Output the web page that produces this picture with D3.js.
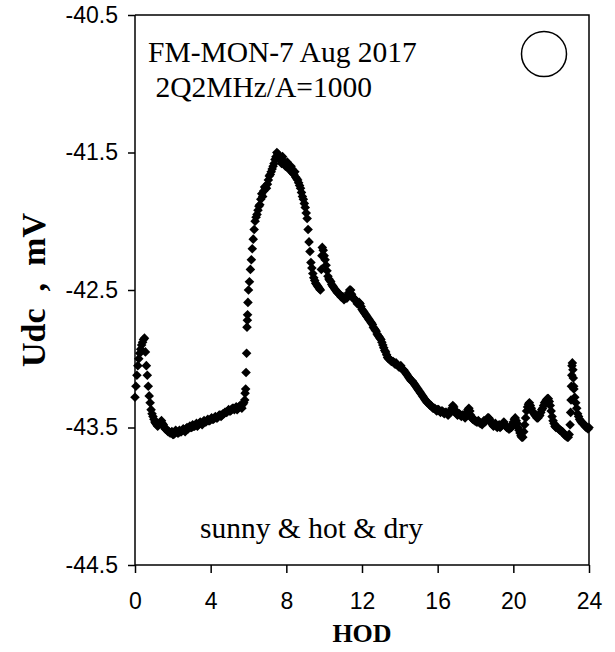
<!DOCTYPE html>
<html lang="en">
<head>
  <meta charset="UTF-8">
  <title>FM-MON-7 Aug 2017</title>
  <script src="https://d3js.org/d3.v7.min.js"></script>
  <style>
    body { margin: 0; background: #fff; }
    svg { font-family: "Liberation Serif", "Times New Roman", serif; }
    .axis path, .axis line { stroke: #000; stroke-width: 1.5px; }
    .axis text { font-size: 23px; fill: #000; }
  </style>
</head>
<body>
  <svg id="chart" width="615" height="652"></svg>
  <script>
    // readings on the full tenth of an hour (0.0, 0.1, ... 24.0)
    const udc = [
      -43.28, -43.12, -43.00, -42.93, -42.88, -42.85, -43.05, -43.20, -43.32, -43.40,
      -43.44, -43.47, -43.49, -43.47, -43.45, -43.48, -43.51, -43.52, -43.53, -43.54,
      -43.55, -43.54, -43.53, -43.54, -43.53, -43.52, -43.52, -43.51, -43.51, -43.49,
      -43.50, -43.49, -43.48, -43.49, -43.47, -43.47, -43.46, -43.46, -43.45, -43.45,
      -43.44, -43.44, -43.43, -43.43, -43.42, -43.41, -43.41, -43.40, -43.39, -43.38,
      -43.38, -43.37, -43.36, -43.36, -43.37, -43.35, -43.35, -43.33, -43.30, -42.96,
      -42.50, -42.35, -42.20, -42.06, -41.97, -41.92, -41.88, -41.80, -41.78, -41.76,
      -41.73, -41.67, -41.64, -41.60, -41.55, -41.50, -41.52, -41.56, -41.53, -41.58,
      -41.60, -41.60, -41.63, -41.62, -41.66, -41.68, -41.70, -41.74, -41.79, -41.84,
      -41.90, -41.98, -42.15, -42.30, -42.38, -42.43, -42.46, -42.48, -42.50, -42.19,
      -42.25, -42.32, -42.40, -42.43, -42.46, -42.48, -42.50, -42.52, -42.53, -42.55,
      -42.55, -42.56, -42.56, -42.52, -42.50, -42.55, -42.57, -42.58, -42.60, -42.60,
      -42.64, -42.66, -42.68, -42.70, -42.72, -42.74, -42.77, -42.79, -42.82, -42.84,
      -42.86, -42.90, -42.94, -42.97, -43.00, -43.01, -43.02, -43.03, -43.03, -43.05,
      -43.06, -43.07, -43.08, -43.10, -43.12, -43.14, -43.16, -43.17, -43.19, -43.21,
      -43.23, -43.25, -43.27, -43.29, -43.31, -43.32, -43.34, -43.35, -43.36, -43.37,
      -43.37, -43.38, -43.38, -43.39, -43.39, -43.40, -43.40, -43.38, -43.34, -43.37,
      -43.40, -43.40, -43.41, -43.41, -43.42, -43.41, -43.37, -43.38, -43.43, -43.44,
      -43.45, -43.46, -43.46, -43.47, -43.46, -43.46, -43.44, -43.43, -43.46, -43.48,
      -43.48, -43.49, -43.49, -43.50, -43.48, -43.46, -43.49, -43.50, -43.51, -43.50,
      -43.46, -43.43, -43.47, -43.52, -43.56, -43.57, -43.48, -43.38, -43.33, -43.34,
      -43.38, -43.40, -43.42, -43.43, -43.41, -43.37, -43.34, -43.31, -43.29, -43.31,
      -43.38, -43.45, -43.49, -43.50, -43.51, -43.52, -43.53, -43.55, -43.56, -43.57,
      -43.48, -43.05, -43.22, -43.32, -43.40, -43.44, -43.46, -43.47, -43.49, -43.50,
      -43.50
    ];
    const hod = udc.map((v, i) => i / 10);

    // readings half way between (0.05, 0.15, ... 23.95)
    const udcHalf = [
      -43.20, -43.05, -42.96, -42.90, -42.86, -42.95, -43.12, -43.27, -43.37, -43.42,
      -43.46, -43.48, -43.48, -43.46, -43.47, -43.50, -43.51, -43.53, -43.54, -43.53,
      -43.55, -43.52, -43.54, -43.52, -43.53, -43.51, -43.53, -43.50, -43.50, -43.50,
      -43.48, -43.49, -43.47, -43.48, -43.46, -43.48, -43.45, -43.46, -43.44, -43.45,
      -43.43, -43.44, -43.42, -43.43, -43.41, -43.42, -43.40, -43.39, -43.39, -43.37,
      -43.38, -43.36, -43.37, -43.35, -43.36, -43.34, -43.36, -43.32, -43.22, -42.68,
      -42.44, -42.28, -42.13, -42.00, -41.95, -41.89, -41.84, -41.82, -41.75, -41.76,
      -41.70, -41.66, -41.62, -41.58, -41.53, -41.51, -41.54, -41.58, -41.56, -41.60,
      -41.57, -41.62, -41.60, -41.65, -41.64, -41.69, -41.72, -41.76, -41.82, -41.87,
      -41.94, -42.06, -42.22, -42.34, -42.41, -42.45, -42.47, -42.49, -42.35, -42.21,
      -42.28, -42.36, -42.42, -42.44, -42.47, -42.49, -42.51, -42.52, -42.54, -42.55,
      -42.57, -42.55, -42.54, -42.50, -42.53, -42.56, -42.57, -42.60, -42.59, -42.62,
      -42.65, -42.67, -42.69, -42.71, -42.73, -42.75, -42.78, -42.80, -42.83, -42.85,
      -42.88, -42.92, -42.95, -42.99, -43.00, -43.02, -43.02, -43.04, -43.04, -43.06,
      -43.05, -43.08, -43.09, -43.11, -43.13, -43.15, -43.16, -43.18, -43.20, -43.22,
      -43.24, -43.26, -43.28, -43.30, -43.32, -43.33, -43.34, -43.36, -43.36, -43.38,
      -43.37, -43.39, -43.38, -43.40, -43.39, -43.41, -43.39, -43.36, -43.35, -43.39,
      -43.41, -43.40, -43.42, -43.41, -43.43, -43.39, -43.36, -43.41, -43.44, -43.45,
      -43.46, -43.45, -43.47, -43.48, -43.45, -43.45, -43.43, -43.44, -43.47, -43.49,
      -43.47, -43.50, -43.48, -43.49, -43.47, -43.48, -43.50, -43.51, -43.49, -43.48,
      -43.44, -43.45, -43.50, -43.54, -43.57, -43.53, -43.43, -43.35, -43.32, -43.36,
      -43.39, -43.41, -43.43, -43.42, -43.39, -43.36, -43.32, -43.30, -43.29, -43.34,
      -43.42, -43.47, -43.50, -43.50, -43.52, -43.53, -43.54, -43.56, -43.57, -43.55,
      -43.30, -43.08, -43.28, -43.36, -43.42, -43.45, -43.47, -43.48, -43.50, -43.51
    ];
    const hodHalf = udcHalf.map((v, i) => i / 10 + 0.05);

    // extra readings where the signal jumps fast
    const jumpHod = [5.82, 5.87, 5.92, 5.94, 5.97, 9.88, 23.03, 23.07, 23.09, 23.12, 23.17, 23.19];
    const jumpUdc = [-43.25, -43.10, -42.77, -42.72, -42.59, -42.25, -43.39, -43.20, -43.12, -43.03, -43.14, -43.20];

    const xTicks = [0, 4, 8, 12, 16, 20, 24];
    const yTicks = [-40.5, -41.5, -42.5, -43.5, -44.5];

    const svg = d3.select("#chart");
    const margin = { top: 15, right: 26, bottom: 87, left: 135 };
    const width = 615 - margin.left - margin.right;
    const height = 652 - margin.top - margin.bottom;

    const x = d3.scaleLinear().domain([0, 24]).range([0, width]);
    const y = d3.scaleLinear().domain([-44.5, -40.5]).range([height, 0]);

    const g = svg.append("g").attr("transform", `translate(${margin.left},${margin.top})`);

    // frame (top and right)
    g.append("path")
      .attr("d", `M0,0H${width}V${height}`)
      .attr("fill", "none")
      .attr("stroke", "#000")
      .attr("stroke-width", 1.5);

    const xAxis = g.append("g")
      .attr("class", "axis")
      .attr("transform", `translate(0,${height})`)
      .call(d3.axisBottom(x).tickValues(xTicks).tickSize(8).tickPadding(20).tickFormat(d3.format("d")));

    // plain hyphen for the minus sign, as in the original
    const yAxis = g.append("g")
      .attr("class", "axis")
      .call(d3.axisLeft(y).tickValues(yTicks).tickSize(7).tickPadding(10)
        .tickFormat(d => d3.format(".1f")(d).replace("\u2212", "-")));

    xAxis.select(".domain").attr("d", `M0,0H${width}`);
    yAxis.select(".domain").attr("d", `M0,0V${height}`);

    // points, drawn as diamonds
    const points = hod.map((h, i) => [h, udc[i]])
      .concat(hodHalf.map((h, i) => [h, udcHalf[i]]))
      .concat(jumpHod.map((h, i) => [h, jumpUdc[i]]));
    const diamond = d3.symbol().type(d3.symbolSquare).size(46);

    g.append("g")
      .selectAll("path")
      .data(points)
      .enter().append("path")
      .attr("d", diamond)
      .attr("transform", d => `translate(${x(d[0])},${y(d[1])}) rotate(45)`)
      .attr("fill", "#000");

    // annotations
    g.append("text")
      .attr("x", 13).attr("y", 47)
      .style("font-size", "29.5px")
      .text("FM-MON-7 Aug 2017");
    g.append("text")
      .attr("x", 13).attr("y", 82)
      .attr("xml:space", "preserve")
      .style("font-size", "29.5px")
      .text(" 2Q2MHz/A=1000");

    g.append("circle")
      .attr("cx", 409).attr("cy", 39).attr("r", 22.5)
      .attr("fill", "none")
      .attr("stroke", "#000")
      .attr("stroke-width", 1.5);

    g.append("text")
      .attr("x", 65).attr("y", 523)
      .style("font-size", "29.5px")
      .text("sunny & hot & dry");

    // axis titles
    svg.append("text")
      .attr("x", margin.left + width / 2).attr("y", 642)
      .attr("text-anchor", "middle")
      .style("font-size", "26px")
      .style("font-weight", "bold")
      .text("HOD");

    svg.append("text")
      .attr("transform", `translate(45,${margin.top + height / 2}) rotate(-90)`)
      .attr("text-anchor", "middle")
      .attr("xml:space", "preserve")
      .style("font-size", "34px")
      .style("font-weight", "bold")
      .text("Udc  ,  mV");
  </script>
</body>
</html>
